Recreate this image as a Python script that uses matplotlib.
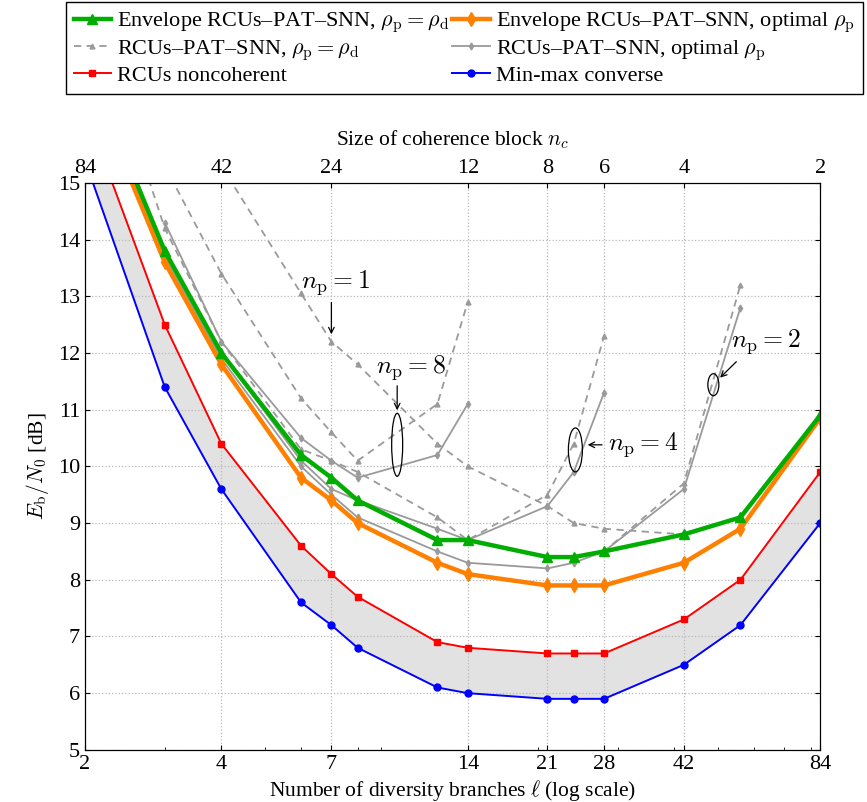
import numpy as np
import matplotlib
matplotlib.use('Agg')
import matplotlib.pyplot as plt
from matplotlib.patches import Ellipse
from matplotlib.transforms import ScaledTranslation

plt.rcParams['font.family'] = ['Liberation Serif', 'DejaVu Serif']
plt.rcParams['mathtext.fontset'] = 'cm'

#%% data
ell = [2, 3, 4, 6, 7, 8, 12, 14, 21, 24, 28, 42, 56, 84]
conv = [15.4, 11.4, 9.6, 7.6, 7.2, 6.8, 6.1, 6.0, 5.9, 5.9, 5.9, 6.5, 7.2, 9.0]
noncoh = [16.3, 12.5, 10.4, 8.6, 8.1, 7.7, 6.9, 6.8, 6.7, 6.7, 6.7, 7.3, 8.0, 9.9]
env_eq = [17.2, 13.8, 12.0, 10.2, 9.8, 9.4, 8.7, 8.7, 8.4, 8.4, 8.5, 8.8, 9.1, 10.9]
env_opt = [17.0, 13.6, 11.8, 9.8, 9.4, 9.0, 8.3, 8.1, 7.9, 7.9, 7.9, 8.3, 8.9, 10.85]

# individual pilot counts (dashed: rho_p = rho_d, solid: optimal rho_p)
ell_p1 = [4, 6, 7, 8, 12, 14, 21, 24, 28, 42, 56, 84]
eq_p1 = [15.3, 13.05, 12.2, 11.8, 10.4, 10.0, 9.3, 9.0, 8.9, 8.8, 9.1, 10.9]

ell_p2 = [2, 3, 4, 6, 7, 8, 12, 14, 21, 24, 28, 42, 56]
eq_p2 = [17.2, 13.8, 12.0, 10.2, 9.8, 9.4, 8.7, 8.7, 8.4, 8.4, 8.5, 9.7, 13.2]
opt_p2 = [17.1, 13.7, 11.9, 10.0, 9.5, 9.1, 8.5, 8.3, 8.2, 8.3, 8.5, 9.6, 12.8]

ell_p4 = [2, 3, 4, 6, 7, 8, 12, 14, 21, 24, 28]
eq_p4 = [18.5, 14.2, 12.2, 10.3, 10.1, 9.9, 9.1, 8.7, 9.5, 10.4, 12.3]
opt_p4 = [17.5, 13.7, 12.0, 10.1, 9.6, 9.4, 8.9, 8.7, 9.3, 9.9, 11.3]

ell_p8 = [3, 4, 6, 7, 8, 12, 14]
eq_p8 = [15.3, 13.4, 11.2, 10.6, 10.1, 11.1, 12.9]
opt_p8 = [14.3, 12.2, 10.5, 10.1, 9.8, 10.2, 11.1]

xticks = [2, 4, 7, 14, 21, 28, 42, 84]
nc_labels = [84, 42, 24, 12, 8, 6, 4, 2]

#%% figure
fig = plt.figure(figsize=(8.67, 8.02), dpi=100)
ax = fig.add_axes([0.098, 0.065, 0.848, 0.707])

ax.fill_between(ell, conv, noncoh, color='#e2e2e2', linewidth=0, zorder=1)

gray = '#9a9a9a'
dashed_kw = dict(color=gray, linestyle=(0, (4, 3)), linewidth=1.3, marker='^', markersize=3.5, zorder=2)
solid_kw = dict(color=gray, linestyle='-', linewidth=1.3, marker='d', markersize=3.5, zorder=2)

h_eq, = ax.plot(ell_p1, eq_p1, **dashed_kw)
ax.plot(ell_p2, eq_p2, **dashed_kw)
ax.plot(ell_p4, eq_p4, **dashed_kw)
ax.plot(ell_p8, eq_p8, **dashed_kw)
h_opt, = ax.plot(ell_p2, opt_p2, **solid_kw)
ax.plot(ell_p4, opt_p4, **solid_kw)
ax.plot(ell_p8, opt_p8, **solid_kw)

h_conv, = ax.plot(ell, conv, color='#0000ff', linewidth=1.4, marker='o', markersize=5, zorder=3)
h_nc, = ax.plot(ell, noncoh, color='#ff0000', linewidth=1.4, marker='s', markersize=5, zorder=3)
h_opt_env, = ax.plot(ell, env_opt, color='#ff8000', linewidth=3.2, marker='d', markersize=7, zorder=4)
h_eq_env, = ax.plot(ell, env_eq, color='#00ad00', linewidth=3.2, marker='^', markersize=7.5, zorder=5)

ax.set_xscale('log')
ax.set_xlim(2, 84)
ax.set_ylim(5, 15)
ax.set_xticks(xticks)
ax.set_xticklabels([str(t) for t in xticks])
ax.set_yticks(range(5, 16))
ax.tick_params(which='both', direction='in', top=False, right=True, labelsize=16)
ax.tick_params(axis='x', which='minor', labelbottom=False)
ax.grid(True, which='major', color='#b8b8b8', linestyle=':', linewidth=0.9)
ax.set_xlabel(r'Number of diversity branches $\ell$ (log scale)', fontsize=15.5, labelpad=3)
ax.set_ylabel(r'$E_\mathrm{b}/N_0$ [dB]', fontsize=15.5, labelpad=5)

ax2 = ax.twiny()
ax2.set_xscale('log')
ax2.set_xlim(ax.get_xlim())
ax2.set_xticks(xticks)
ax2.set_xticklabels([str(n) for n in nc_labels])
ax2.minorticks_off()
ax2.tick_params(direction='in', labelsize=16)
ax2.set_xlabel(r'Size of coherence block $n_c$', fontsize=15.5, labelpad=10)

#%% annotations
def ellipse(x, y, w, h):
    tr = fig.dpi_scale_trans + ScaledTranslation(x, y, ax.transData)
    ax.add_patch(Ellipse((0, 0), w, h, transform=tr, fill=False, edgecolor='black', linewidth=0.9, zorder=6))

arr = dict(arrowstyle='->', color='black', linewidth=0.9)
ax.annotate('', xy=(7, 12.28), xytext=(7, 12.94), arrowprops=arr, zorder=6)
ax.text(7.13, 13.24, r'$n_\mathrm{p} = 1$', fontsize=18.5, ha='center', va='center')

ellipse(9.78, 10.38, 0.11, 0.63)
ax.annotate('', xy=(9.78, 10.94), xytext=(9.78, 11.47), arrowprops=arr, zorder=6)
ax.text(10.49, 11.75, r'$n_\mathrm{p} = 8$', fontsize=18.5, ha='center', va='center')

ellipse(24.2, 10.29, 0.14, 0.44)
ax.annotate('', xy=(25.4, 10.38), xytext=(28.1, 10.38), arrowprops=arr, zorder=6)
ax.text(28.5, 10.38, r'$n_\mathrm{p} = 4$', fontsize=18.5, ha='left', va='center')

ellipse(48.8, 11.44, 0.11, 0.22)
ax.annotate('', xy=(50.0, 11.53), xytext=(55.4, 11.88), arrowprops=arr, zorder=6)
ax.text(63.8, 12.2, r'$n_\mathrm{p} = 2$', fontsize=18.5, ha='center', va='center')

#%% legend
handles = [h_eq_env, h_eq, h_nc, h_opt_env, h_opt, h_conv]
labels = [r'Envelope RCUs–PAT–SNN, $\rho_\mathrm{p} = \rho_\mathrm{d}$',
          r'RCUs–PAT–SNN, $\rho_\mathrm{p} = \rho_\mathrm{d}$',
          'RCUs noncoherent',
          r'Envelope RCUs–PAT–SNN, optimal $\rho_\mathrm{p}$',
          r'RCUs–PAT–SNN, optimal $\rho_\mathrm{p}$',
          'Min-max converse']
fig.legend(handles, labels, ncol=2, loc='upper right', bbox_to_anchor=(0.995, 0.997),
           fontsize=16, frameon=True, fancybox=False, edgecolor='black', framealpha=1,
           handlelength=1.7, handletextpad=0.25, columnspacing=0.15, labelspacing=0.12,
           borderpad=0.35, borderaxespad=0)

fig.savefig('out.png', dpi=100)
